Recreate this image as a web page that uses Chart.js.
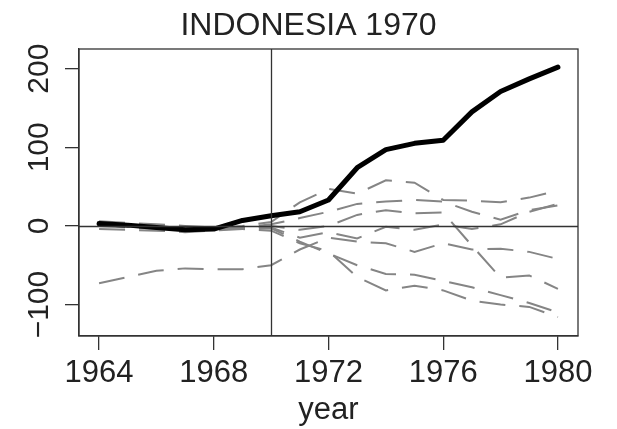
<!DOCTYPE html>
<html>
<head>
<meta charset="utf-8">
<script src="https://cdn.jsdelivr.net/npm/chart.js@4"></script>
<style>
  body { margin: 0; background: #fff; }
</style>
</head>
<body>
<canvas id="chartCanvas" width="617" height="429"></canvas>
<script>
// years and axis ticks
const years = [1964, 1965, 1966, 1967, 1968, 1969, 1970, 1971, 1972,
               1973, 1974, 1975, 1976, 1977, 1978, 1979, 1980];
const xTicks = [1964, 1968, 1972, 1976, 1980];
const yTicks = [-100, 0, 100, 200];
const treatYear = 1970;

// Indonesia (treated) gap
const treated = [3, 1, -2, -5, -4, 7, 13, 18, 33, 74, 97, 105, 109, 145, 171, 187, 202];

// placebo gaps
const p1 = [-73, -65, -57, -54, -55, -55, -50, -30, -15, -20, -22, -33, -22, -30, -29, -33, -42];
const p2 = [5, 2, -2, -5, -3, 0, 5, 30, 47, 41, 58, 55, 33, 32, 30, 36, 45];
const p3 = [2, 0, -3, -6, -5, -3, 0, -5, 0, 14, 20, 16, 17, -25, -66, -63, -80];
const p4 = [0, -2, -4, -6, -4, -2, 2, 10, 18, 28, 31, 33, 31, 18, 8, 20, 26];
const p5 = [3, 1, -1, -3, -4, -3, -2, -15, -8, -16, -1, -5, 2, -4, 2, 18, 28];
const p6 = [-4, -5, -6, -8, -6, -4, -3, -20, -35, -50, -61, -62, -70, -78, -88, -98, -110];
const p7 = [6, 4, 2, 0, -2, -4, -6, -22, -32, -65, -82, -76, -82, -95, -100, -103, -116];
const placebos = [p1, p2, p3, p4, p5, p6, p7];

const FONT = "'Liberation Sans', Arial, Helvetica, sans-serif";
const AXIS = "#333";

function toPoints(vals) {
  return vals.map((v, i) => ({ x: years[i], y: v }));
}

const datasets = [{
  data: toPoints(treated),
  borderColor: "#000",
  borderWidth: 5,
  borderCapStyle: "round",
  borderJoinStyle: "round",
  pointRadius: 0,
  order: 0
}];
placebos.forEach(p => {
  datasets.push({
    data: toPoints(p),
    borderColor: "#858585",
    borderWidth: 2,
    borderDash: [26, 14],
    pointRadius: 0,
    order: 1
  });
});

// box, reference lines and rotated y labels
const extras = {
  id: "extras",
  afterDatasetsDraw(chart) {
    const { ctx, chartArea: a, scales: { x, y } } = chart;
    ctx.save();
    ctx.strokeStyle = AXIS;
    ctx.lineWidth = 1.3;
    const vx = Math.round(x.getPixelForValue(treatYear)) + 0.5;
    const hy = Math.round(y.getPixelForValue(0)) + 0.5;
    ctx.beginPath();
    ctx.moveTo(vx, a.top); ctx.lineTo(vx, a.bottom);
    ctx.moveTo(a.left, hy); ctx.lineTo(a.right, hy);
    ctx.stroke();
    ctx.strokeRect(a.left, a.top, a.right - a.left, a.bottom - a.top);
    ctx.restore();
  },
  afterDraw(chart) {
    const { ctx, scales: { y } } = chart;
    ctx.save();
    ctx.fillStyle = "#222";
    ctx.font = "30px " + FONT;
    ctx.textAlign = "center";
    ctx.textBaseline = "middle";
    y.ticks.forEach(t => {
      const py = y.getPixelForValue(t.value);
      const txt = t.value < 0 ? "\u2212" + Math.abs(t.value) : String(t.value);
      ctx.save();
      ctx.translate(40, py);
      ctx.rotate(-Math.PI / 2);
      ctx.fillText(txt, 0, 0);
      ctx.restore();
    });
    ctx.restore();
  }
};

new Chart(document.getElementById("chartCanvas").getContext("2d"), {
  type: "line",
  data: { datasets },
  plugins: [extras],
  options: {
    responsive: false,
    animation: false,
    layout: { padding: 0 },
    plugins: {
      legend: { display: false },
      tooltip: { enabled: false },
      title: {
        display: true,
        text: "INDONESIA 1970",
        color: "#222",
        font: { family: FONT, size: 32, weight: "normal" },
        padding: { top: 7, bottom: 3.6 }
      }
    },
    scales: {
      x: {
        type: "linear",
        min: 1963.3,
        max: 1980.7,
        afterBuildTicks: s => { s.ticks = xTicks.map(v => ({ value: v })); },
        afterFit: s => { s.height = 93; },
        grid: { display: true, drawOnChartArea: false, drawTicks: true, tickLength: 14, color: AXIS, lineWidth: 1.3 },
        border: { display: true, color: AXIS, width: 1.3 },
        ticks: {
          color: "#222",
          padding: 5,
          maxRotation: 0,
          font: { family: FONT, size: 31 },
          callback: v => String(v)
        },
        title: {
          display: true,
          text: "year",
          color: "#222",
          font: { family: FONT, size: 31 },
          padding: { top: 0, bottom: 0 }
        }
      },
      y: {
        min: -140,
        max: 225,
        afterBuildTicks: s => { s.ticks = yTicks.map(v => ({ value: v })); },
        afterFit: s => { s.width = 79; },
        grid: { display: true, drawOnChartArea: false, drawTicks: true, tickLength: 14, color: AXIS, lineWidth: 1.3 },
        border: { display: true, color: AXIS, width: 1.3 },
        ticks: { display: false }
      },
      // empty right-hand margin
      yRight: {
        position: "right",
        min: -140,
        max: 225,
        afterFit: s => { s.width = 39; },
        grid: { display: false },
        border: { display: false },
        ticks: { display: false }
      }
    }
  }
});
</script>
</body>
</html>
